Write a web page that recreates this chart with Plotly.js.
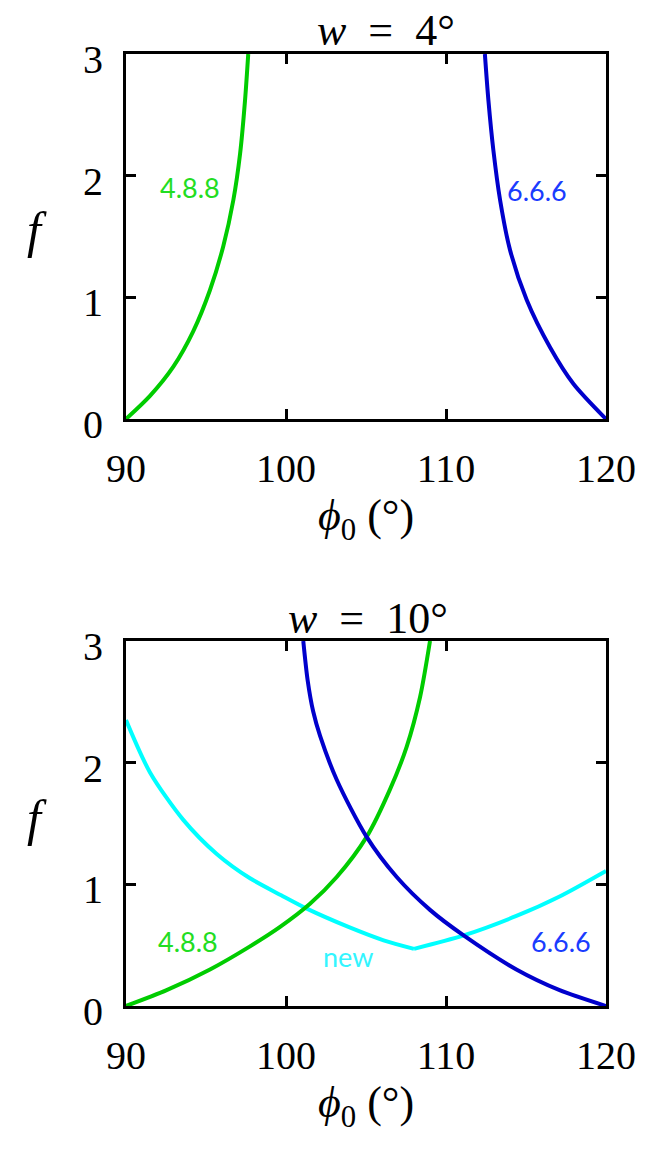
<!DOCTYPE html>
<html>
<head>
<meta charset="utf-8">
<script src="https://cdn.plot.ly/plotly-3.0.1.min.js"></script>
<style>html,body{margin:0;padding:0;background:#fff;}#chart{width:664px;height:1154px;}</style>
</head>
<body>
<div id="chart"></div>
<script>
// ---- data ----
const xTicks = [90, 100, 110, 120];
const yTicks = [0, 1, 2, 3];

// panel 1: w = 4°
const w4_488_x = [90, 91.5, 92.96, 94.2, 95.25, 96.08, 96.71, 97.13, 97.44, 97.64];
const w4_488_y = [0, 0.19, 0.43, 0.72, 1.06, 1.42, 1.80, 2.18, 2.62, 3.0];
const w4_666_x = [112.43, 112.65, 112.96, 113.38, 114.0, 115.04, 116.5, 117.96, 120];
const w4_666_y = [3.0, 2.62, 2.21, 1.80, 1.39, 0.98, 0.59, 0.29, 0];

// panel 2: w = 10°
const w10_488_x = [90, 92.54, 95.25, 97.75, 99.63, 101.5, 103.17, 105.04, 106.5, 107.54, 108.38, 109.0];
const w10_488_y = [0, 0.13, 0.30, 0.49, 0.65, 0.84, 1.06, 1.39, 1.78, 2.13, 2.54, 3.0];
const w10_666_x = [101.08, 101.35, 101.7, 102.13, 103.17, 105.04, 106.92, 109.0, 111.1, 114.4, 117.1, 120];
const w10_666_y = [3.0, 2.68, 2.42, 2.22, 1.86, 1.39, 1.06, 0.79, 0.58, 0.30, 0.13, 0];
const w10_new_left_x = [90, 91.5, 93.58, 95.67, 97.75, 99.7, 101.3, 103.9, 106.1, 108.0];
const w10_new_left_y = [2.35, 1.92, 1.53, 1.25, 1.05, 0.91, 0.80, 0.65, 0.54, 0.47];
const w10_new_right_x = [108.0, 111.1, 114.4, 117.1, 120];
const w10_new_right_y = [0.47, 0.58, 0.74, 0.90, 1.11];

const NB = '\u00a0';
const panelTitles = ['<i>w</i>' + NB + NB + '=' + NB + NB + '4°', '<i>w</i>' + NB + NB + '=' + NB + NB + '10°'];
const curveLabels = ['4.8.8', '6.6.6', 'new'];

// ---- styles ----
const GREEN = '#00cc00', BLUE = '#0000cc', CYAN = '#00ffff';
const GREEN_T = '#22dd22', BLUE_T = '#1a3cff', CYAN_T = '#33f5ff';
const serif = 'Liberation Serif';
const sans = 'Lato';

function line(x, y, color, xa, ya) {
  return {x: x, y: y, xaxis: xa, yaxis: ya, type: 'scatter', mode: 'lines',
          line: {color: color, width: 4, shape: 'spline', smoothing: 0.8},
          hoverinfo: 'skip', showlegend: false};
}

const data = [
  line(w4_488_x, w4_488_y, GREEN, 'x', 'y'),
  line(w4_666_x, w4_666_y, BLUE, 'x', 'y'),
  line(w10_new_left_x, w10_new_left_y, CYAN, 'x2', 'y2'),
  line(w10_new_right_x, w10_new_right_y, CYAN, 'x2', 'y2'),
  line(w10_488_x, w10_488_y, GREEN, 'x2', 'y2'),
  line(w10_666_x, w10_666_y, BLUE, 'x2', 'y2')
];

const H = 1154, W = 664;
const xdom = [126 / W, 606 / W];
const ydom1 = [1 - 419 / H, 1 - 54 / H];
const ydom2 = [1 - 1006 / H, 1 - 641 / H];

function xax(anchor) {
  return {domain: xdom, anchor: anchor, range: [90, 120], tickvals: xTicks,
    ticktext: xTicks.map(String), ticks: 'inside', ticklen: 10, tickwidth: 3,
    tickcolor: '#000', showline: true, linecolor: '#000', linewidth: 3,
    mirror: 'ticks', showgrid: false, zeroline: false, automargin: false,
    ticklabelstandoff: 12,
    tickfont: {family: serif, size: 40, color: '#000'},
    title: {text: '<i>ϕ</i><sub>0</sub>' + NB + '(°)', font: {family: serif, size: 44, color: '#000'}, standoff: 10}};
}
function yax(anchor, dom) {
  return {domain: dom, anchor: anchor, range: [0, 3], tickvals: yTicks,
    ticktext: yTicks.map(String), ticks: 'inside', ticklen: 10, tickwidth: 3,
    tickcolor: '#000', showline: true, linecolor: '#000', linewidth: 3,
    mirror: 'ticks', showgrid: false, zeroline: false, automargin: false,
    ticklabelstandoff: 12, ticklabelshift: 5,
    tickfont: {family: serif, size: 40, color: '#000'}};
}

function lab(text, x, y, xr, yr, color) {
  return {text: text, x: x, y: y, xref: xr, yref: yr, showarrow: false,
          font: {family: sans, size: 27, color: color}, xanchor: 'center', yanchor: 'middle'};
}

const annotations = [
  {text: panelTitles[0], x: 386 / W, y: 1 - 31 / H, xref: 'paper', yref: 'paper', showarrow: false,
   xanchor: 'center', yanchor: 'middle', font: {family: serif, size: 44, color: '#000'}},
  {text: panelTitles[1], x: 368 / W, y: 1 - 618 / H, xref: 'paper', yref: 'paper', showarrow: false,
   xanchor: 'center', yanchor: 'middle', font: {family: serif, size: 44, color: '#000'}},
  {text: '<i>f</i>', x: 37 / W, y: 1 - 230 / H, xref: 'paper', yref: 'paper', showarrow: false,
   xanchor: 'center', yanchor: 'middle', font: {family: serif, size: 50, color: '#000'}},
  {text: '<i>f</i>', x: 37 / W, y: 1 - 818 / H, xref: 'paper', yref: 'paper', showarrow: false,
   xanchor: 'center', yanchor: 'middle', font: {family: serif, size: 50, color: '#000'}},
  lab(curveLabels[0], 94.0, 1.9, 'x', 'y', GREEN_T),
  lab(curveLabels[1], 115.7, 1.88, 'x', 'y', BLUE_T),
  lab(curveLabels[0], 93.9, 0.53, 'x2', 'y2', GREEN_T),
  lab(curveLabels[2], 103.9, 0.41, 'x2', 'y2', CYAN_T),
  lab(curveLabels[1], 117.2, 0.53, 'x2', 'y2', BLUE_T)
];

const layout = {
  width: W, height: H, margin: {l: 0, r: 0, t: 0, b: 0},
  paper_bgcolor: '#fff', plot_bgcolor: '#fff', showlegend: false,
  font: {family: serif},
  xaxis: xax('y'), yaxis: yax('x', ydom1),
  xaxis2: xax('y2'), yaxis2: yax('x2', ydom2),
  annotations: annotations
};

Plotly.newPlot('chart', data, layout, {staticPlot: true, displayModeBar: false});
</script>
</body>
</html>
